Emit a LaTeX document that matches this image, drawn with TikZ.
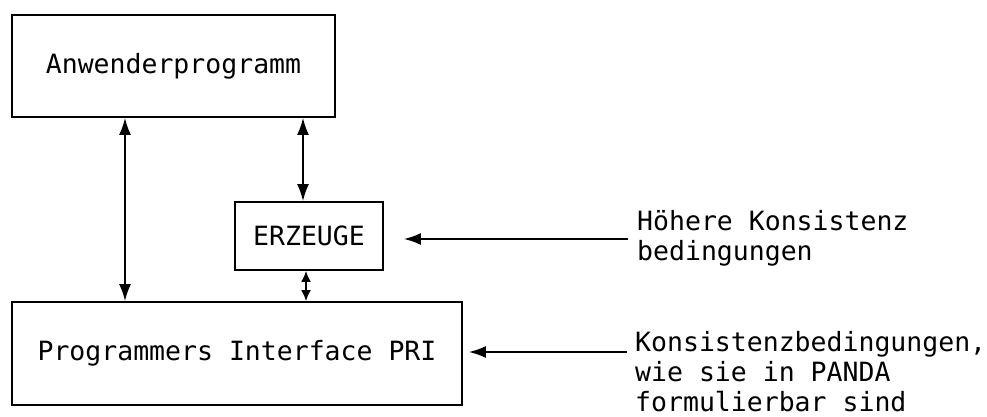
\documentclass[tikz,border=0pt]{standalone}
\usepackage{fontspec}
\setmonofont{DejaVu Sans Mono}
\usetikzlibrary{arrows.meta}
\begin{document}
\begin{tikzpicture}[x=1pt,y=-1pt,
  box/.style={draw,line width=1.8pt,inner sep=0pt,font=\ttfamily\fontsize{26.5}{30}\selectfont},
  lbl/.style={inner sep=0pt,align=left,font=\ttfamily\fontsize{26.5}{30}\selectfont},
  tip/.style={Latex[length=17pt,width=12pt]},
  arr/.style={line width=1.8pt,-{Latex[length=17pt,width=12pt]}},
  darr/.style={line width=1.8pt,{Latex[length=17pt,width=12pt]}-{Latex[length=17pt,width=12pt]}},
  sdarr/.style={line width=1.8pt,{Latex[length=11pt,width=10pt]}-{Latex[length=11pt,width=10pt]}}]
\useasboundingbox[fill=white] (0,0) rectangle (987,417);
\node[box,minimum width=323pt,minimum height=102pt] (anw) at (173.5,66) {Anwenderprogramm};
\node[box,minimum width=148pt,minimum height=68pt] (erz) at (309,236) {ERZEUGE};
\node[box,minimum width=450pt,minimum height=103pt] (pri) at (237,353.5) {Programmers Interface PRI};
\node[lbl,anchor=base west] (hk) at (637,260) {Höhere Konsistenz\\bedingungen};
\node[lbl,anchor=base west] (kb) at (635,411) {Konsistenzbedingungen,\\wie sie in PANDA\\formulierbar sind};
\coordinate (hkin) at (628,239);
\coordinate (kbin) at (627,352);
\draw[darr] (anw.south -| 125,0) -- (pri.north -| 125,0);
\draw[darr] (anw.south -| 303,0) -- (erz.north -| 303,0);
\draw[sdarr] (erz.south -| 306,0) -- (pri.north -| 306,0);
\draw[arr,shorten >=20pt] (hkin) -- (hkin -| erz.east);
\draw[arr,shorten >=6pt] (kbin) -- (kbin -| pri.east);
\end{tikzpicture}
\end{document}
